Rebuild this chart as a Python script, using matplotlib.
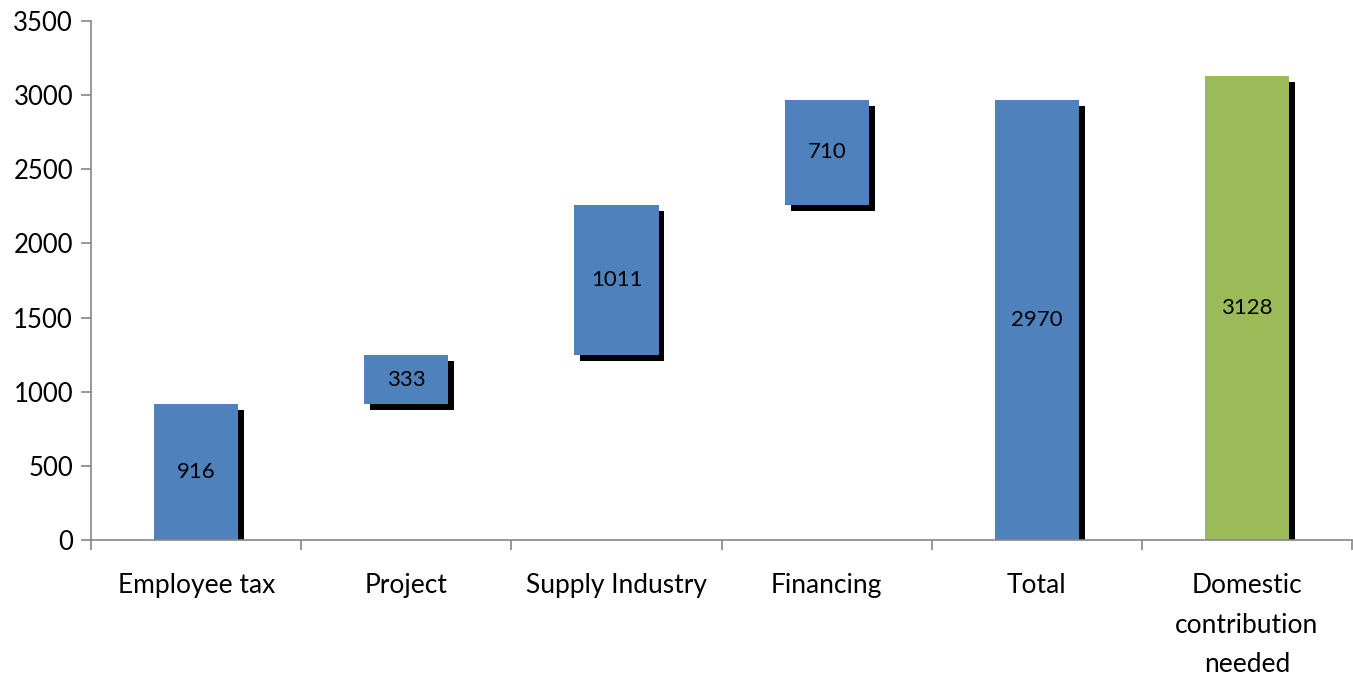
import matplotlib.pyplot as plt
import matplotlib.patheffects as pe
import numpy as np

categories = ["Employee tax", "Project", "Supply Industry", "Financing",
              "Total", "Domestic\ncontribution\nneeded"]
steps = [916, 333, 1011, 710]
total = 2970
needed = 3128

plt.rcParams["font.family"] = ["Lato", "DejaVu Sans"]

# waterfall: each step starts where the previous one ended
bottoms = list(np.concatenate([[0], np.cumsum(steps)[:-1]])) + [0, 0]
heights = steps + [total, needed]
colors = ["#4F81BD"] * 5 + ["#9BBB59"]

fig = plt.figure(figsize=(13.53, 6.79), dpi=100)
ax = fig.add_axes([0.0673, 0.2047, 0.9320, 0.7643])

x = np.arange(len(categories))
shadow = [pe.SimplePatchShadow(offset=(4.3, -4.3), shadow_rgbFace="black", alpha=1.0), pe.Normal()]
bars = ax.bar(x, heights, bottom=bottoms, width=0.4, color=colors, zorder=2)
for b in bars:
    b.set_path_effects(shadow)

for i, (b0, h) in enumerate(zip(bottoms, heights)):
    ax.text(x[i], b0 + h / 2, str(h), ha="center", va="center",
            fontsize=16, color="black", zorder=3)

ax.set_xlim(-0.5, len(categories) - 0.5)
ax.set_ylim(0, 3500)
ax.set_yticks(range(0, 3501, 500))
ax.set_xticks(x)
ax.set_xticklabels(categories, fontsize=19, linespacing=1.72)
ax.set_xticks(np.arange(len(categories) + 1) - 0.5, minor=True)
ax.tick_params(axis="x", which="major", length=0, pad=24)
ax.tick_params(axis="x", which="minor", length=7, color="#868686", width=1.2)
ax.tick_params(axis="y", length=7, color="#868686", width=1.2, labelsize=18.5, pad=6)

for side in ["top", "right"]:
    ax.spines[side].set_visible(False)
for side in ["left", "bottom"]:
    ax.spines[side].set_color("#868686")
    ax.spines[side].set_linewidth(1.2)

fig.savefig("out.png", dpi=100)
